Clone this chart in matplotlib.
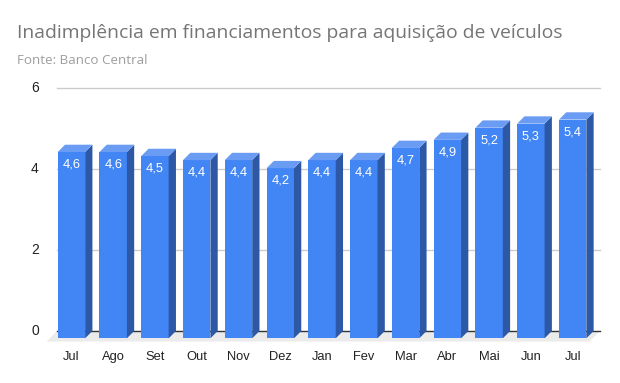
import matplotlib.pyplot as plt
from matplotlib.patches import Polygon

# Data
meses = ['Jul', 'Ago', 'Set', 'Out', 'Nov', 'Dez', 'Jan', 'Fev', 'Mar', 'Abr', 'Mai', 'Jun', 'Jul']
valores = [4.6, 4.6, 4.5, 4.4, 4.4, 4.2, 4.4, 4.4, 4.7, 4.9, 5.2, 5.3, 5.4]
yticks = [0, 2, 4, 6]

W, H = 620, 383
fig = plt.figure(figsize=(W / 100, H / 100), dpi=100)

# axes placed in pixels: back plane x 57..600, y 0 -> 331px, 6 -> 88px
px_x = 543 / 13.0
px_y = (331 - 88) / 6.0
ax_l, ax_r, ax_t, ax_b = 40, 606, 88, 350
ax = fig.add_axes([ax_l / W, (H - ax_b) / H, (ax_r - ax_l) / W, (ax_b - ax_t) / H])
ax.set_xlim(-0.5 - (57 - ax_l) / px_x, 12.5 + (ax_r - 600) / px_x)
ax.set_ylim(-(ax_b - 331) / px_y, 6.0)
ax.axis('off')

# 3D depth offsets in data units
dx = 7.3 / px_x
dy = 7.3 / px_y
fdx = 10.5 / px_x
fdy = 10.5 / px_y
half = 13.7 / px_x

# gridlines on back plane
for t in yticks[1:]:
    ax.plot([-0.5, 12.5], [t, t], color='#cccccc', lw=1, zorder=1, clip_on=False)
for t in yticks:
    ax.text(-0.5 - 22 / px_x, t, str(t), ha='center', va='center', fontsize=10,
            color='#222222', family='Liberation Sans')

# floor
ax.add_patch(Polygon([(-0.5, 0), (12.5, 0), (12.5 - fdx, -fdy), (-0.5 - fdx, -fdy)],
                     closed=True, facecolor='#ebebeb', edgecolor='none', zorder=1))
ax.plot([-0.5, 12.5], [0, 0], color='#333333', lw=1, zorder=2)

for i, v in enumerate(valores):
    fl = i - half - dx + 0.02
    fr = fl + 2 * half
    # front face
    ax.bar(fl, v, width=2 * half, bottom=-dy, align='edge', color='#4285f4',
           edgecolor='none', zorder=3)
    # side face
    ax.add_patch(Polygon([(fr, -dy), (fr + dx, 0), (fr + dx, v), (fr, v - dy)],
                         closed=True, facecolor='#2c58a6', edgecolor='none', zorder=3))
    # top face
    ax.add_patch(Polygon([(fl, v - dy), (fl + dx, v), (fr + dx, v), (fr, v - dy)],
                         closed=True, facecolor='#6a9cf3', edgecolor='none', zorder=3))
    ax.text(fl + half, v - dy - 12.5 / px_y, f'{v:.1f}'.replace('.', ','), ha='center',
            va='center', color='white', fontsize=9.3, family='Liberation Sans', zorder=4)
    ax.text(fl + half, -dy - 19 / px_y, meses[i], ha='center', va='center',
            color='#222222', fontsize=9.3, family='Liberation Sans')

fig.text(17 / W, 1 - 33 / H, 'Inadimplência em financiamentos para aquisição de veículos',
         fontsize=13.9, color='#757575', family='Open Sans', va='center')
fig.text(17 / W, 1 - 61 / H, 'Fonte: Banco Central', fontsize=9.6, color='#9e9e9e',
         family='Open Sans', va='center')

fig.savefig('out.png', dpi=100)
